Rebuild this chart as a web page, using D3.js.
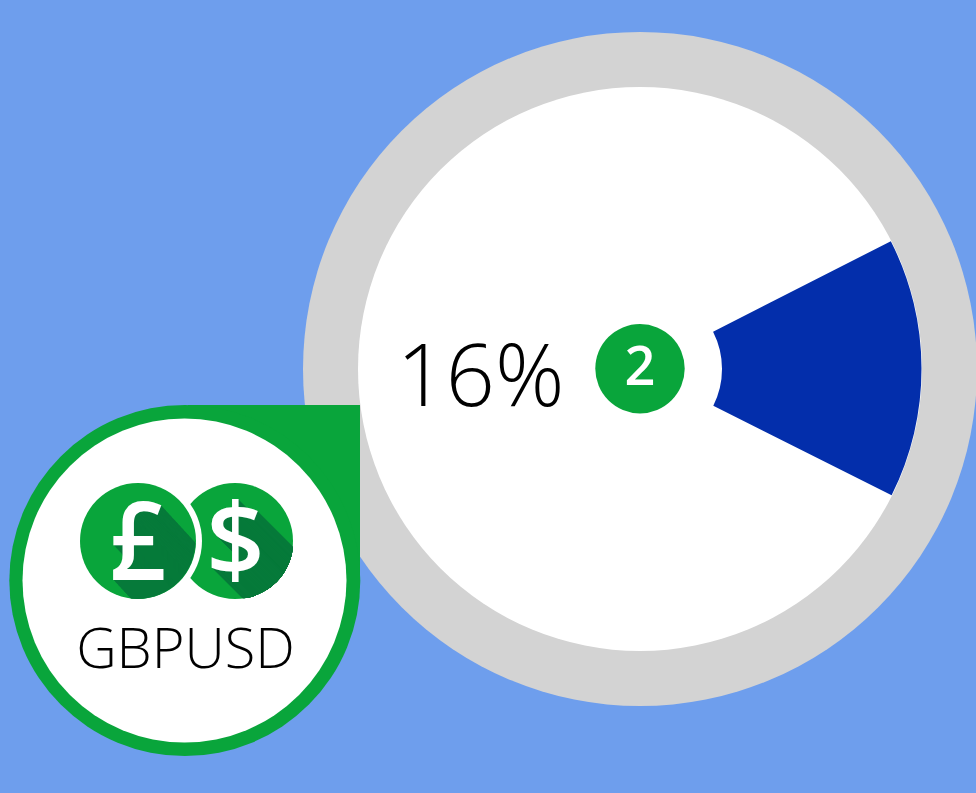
<!DOCTYPE html>
<html>
<head>
<meta charset="utf-8">
<script src="https://cdn.jsdelivr.net/npm/d3@7/dist/d3.min.js"></script>
<style>
html,body{margin:0;padding:0;background:#6e9eed;overflow:hidden}
svg{display:block;position:absolute;left:0;top:0}
text,div{font-family:"Open Sans",sans-serif}
</style>
</head>
<body>
<svg id="c" width="976" height="793"></svg>
<script>
const sliceNames = ["position", "rest"];
const sliceValues = [14.9, 85.1];
const percentLabel = "16%";
const rankLabel = "2";
const symbolLabel = "GBPUSD";
const currencyGlyphs = ["$", "£"];
const shadowSteps = d3.range(1, 90);

const svg = d3.select("#c");
const colors = {green:"#09a53b", dark:"#067a3a", grey:"#d3d3d3", blue:"#032eab"};
const cx = 640, cy = 369;

svg.append("circle").attr("cx",cx).attr("cy",cy).attr("r",337).attr("fill",colors.grey);
svg.append("circle").attr("cx",cx).attr("cy",cy).attr("r",282).attr("fill","#fff");

const start = 63*Math.PI/180;
const pie = d3.pie().sort(null).startAngle(start).endAngle(start+2*Math.PI);
const arc = d3.arc().innerRadius(82).outerRadius(281.5);
svg.append("g").attr("transform",`translate(${cx},${cy})`)
  .selectAll("path").data(pie(sliceValues)).join("path")
  .attr("d",arc)
  .attr("fill",(d,i)=>i===0?colors.blue:"none");

svg.append("text").attr("x",480.5).attr("y",406).attr("text-anchor","middle")
  .attr("font-size",86).attr("font-weight",300).attr("fill","#000").text(percentLabel);

svg.append("circle").attr("cx",640).attr("cy",368.7).attr("r",44.7).attr("fill",colors.green);
svg.append("text").attr("x",640).attr("y",385).attr("text-anchor","middle")
  .attr("font-size",54).attr("font-weight",600).attr("fill","#fff").text(rankLabel);

// badge
svg.append("rect").attr("x",188).attr("y",405).attr("width",172).attr("height",176).attr("fill",colors.green);
svg.append("circle").attr("cx",184.8).attr("cy",580.5).attr("r",175.5).attr("fill",colors.green);
svg.append("circle").attr("cx",184.5).attr("cy",580.5).attr("r",162).attr("fill","#fff");

svg.append("text").attr("x",185.5).attr("y",668).attr("text-anchor","middle")
  .attr("font-size",56).attr("font-weight",300).attr("fill","#000").text(symbolLabel);

// coins: one real text each, long shadow made by text-shadow
const shadow = shadowSteps.map(d=>`${d}px ${d}px 0 ${colors.dark}`).join(",");
const coins = [
  {x:235.3, g:currencyGlyphs[0], size:102, lh:108.8, sx:1, ring:false},
  {x:137.5, g:currencyGlyphs[1], size:108, lh:112.2, sx:0.92, ring:true}
];
const coin = d3.select("body").selectAll("div.coin").data(coins).join("div").attr("class","coin")
  .style("position","absolute")
  .style("left",d=>(d.x-58)+"px").style("top","483px")
  .style("width","116px").style("height","116px")
  .style("border-radius","50%")
  .style("background",colors.green)
  .style("box-shadow",d=>d.ring?"0 0 0 6px #fff":"none");
coin.append("div")
  .style("position","absolute").style("left","0").style("top","0")
  .style("width","116px").style("height","116px")
  .style("clip-path","circle(58px at 58px 58px)")
  .append("div")
  .style("width","116px")
  .style("line-height",d=>d.lh+"px")
  .style("text-align","center").style("color","#fff")
  .style("font-size",d=>d.size+"px").style("font-weight",600)
  .style("text-shadow",shadow)
  .style("transform",d=>`scaleX(${d.sx})`)
  .text(d=>d.g);
</script>
</body>
</html>
